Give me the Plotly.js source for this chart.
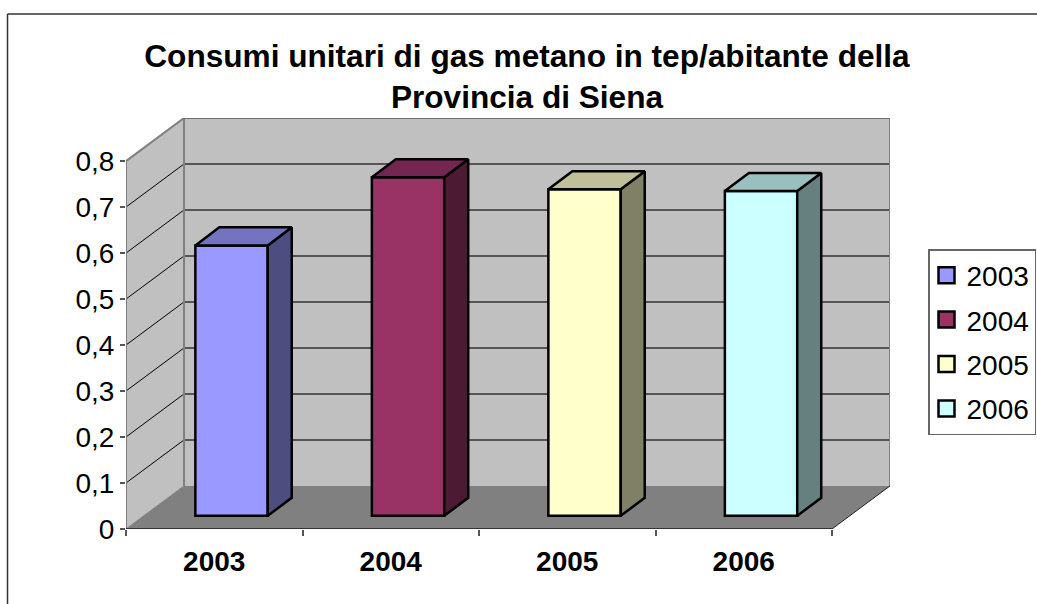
<!DOCTYPE html>
<html>
<head>
<meta charset="utf-8">
<script src="https://cdn.plot.ly/plotly-3.0.1.min.js"></script>
<style>html,body{margin:0;padding:0;background:#fff}#chart{width:1037px;height:604px}</style>
</head>
<body>
<div id="chart"></div>
<script>
var titleText = 'Consumi unitari di gas metano in tep/abitante della<br>Provincia di Siena';
var years = ['2003', '2004', '2005', '2006'];
var values = [0.588, 0.736, 0.71, 0.706];
var frontColors = ['#9999FF', '#993366', '#FFFFCC', '#CCFFFF'];
var topColors = ['#7373BF', '#732650', '#BFBF99', '#99BFBF'];
var sideColors = ['#4D4D80', '#4D1A33', '#808066', '#668080'];
var yTicks = [0, 0.1, 0.2, 0.3, 0.4, 0.5, 0.6, 0.7, 0.8];
var yTickText = ['0', '0,1', '0,2', '0,3', '0,4', '0,5', '0,6', '0,7', '0,8'];

// oblique projection, in axis units
var wallDx = 0.3286, wallDy = 0.0937;
var barDx = 0.136, barDy = 0.0392;
var barBase = 0.0287, barShift = 0.098, barWidth = 0.41;
var xMax = years.length + wallDx, yMax = 0.8 + wallDy;
var FONT = 'Liberation Sans, Arial, sans-serif';

var traces = [];
years.forEach(function (year, i) {
  var cx = i + 0.5 + barShift;
  var xl = cx - barWidth / 2, xr = cx + barWidth / 2;
  var top = barBase + values[i];
  traces.push({
    type: 'bar', x: [cx], y: [values[i]], base: [barBase], width: [barWidth],
    marker: {color: frontColors[i], line: {color: '#000', width: 2.5}},
    showlegend: false, hoverinfo: 'skip'
  });
  traces.push({
    type: 'scatter', mode: 'lines', fill: 'toself', fillcolor: sideColors[i],
    x: [xr, xr + barDx, xr + barDx, xr, xr],
    y: [barBase, barBase + barDy, top + barDy, top, barBase],
    line: {color: '#000', width: 2.5}, showlegend: false, hoverinfo: 'skip', cliponaxis: false
  });
  traces.push({
    type: 'scatter', mode: 'lines', fill: 'toself', fillcolor: topColors[i],
    x: [xl, xr, xr + barDx, xl + barDx, xl],
    y: [top, top, top + barDy, top + barDy, top],
    line: {color: '#000', width: 2.5}, showlegend: false, hoverinfo: 'skip', cliponaxis: false
  });
  traces.push({
    type: 'scatter', mode: 'markers', name: year, legendgroup: year,
    x: [null], y: [null],
    marker: {symbol: 'square', size: 16, color: frontColors[i], line: {color: '#000', width: 2.5}},
    hoverinfo: 'skip'
  });
});

function edge(xs, ys, color, width) {
  traces.push({type: 'scatter', mode: 'lines', x: xs, y: ys, cliponaxis: false,
    line: {color: color, width: width}, showlegend: false, hoverinfo: 'skip'});
}
edge([0, 0], [0, 0.8], '#808080', 2);
edge([0, wallDx], [0.8, yMax], '#808080', 2);
edge([wallDx, wallDx], [wallDy, yMax], '#808080', 2);
edge([wallDx, xMax], [yMax, yMax], '#6e6e6e', 2);
edge([xMax, xMax], [wallDy, yMax], '#808080', 2);
edge([0, wallDx], [0, wallDy], '#808080', 1);
edge([0, years.length], [0, 0], '#333333', 2);
edge([years.length, xMax], [0, wallDy], '#222222', 1);

var shapes = [
  {type: 'path', xref: 'x', yref: 'y', layer: 'below', line: {width: 0}, fillcolor: '#C0C0C0',
   path: 'M' + wallDx + ',' + wallDy + 'L' + xMax + ',' + wallDy + 'L' + xMax + ',' + yMax + 'L' + wallDx + ',' + yMax + 'Z'},
  {type: 'path', xref: 'x', yref: 'y', layer: 'below', line: {width: 0}, fillcolor: '#C0C0C0',
   path: 'M0,0L' + wallDx + ',' + wallDy + 'L' + wallDx + ',' + yMax + 'L0,0.8Z'},
  {type: 'path', xref: 'x', yref: 'y', layer: 'below', line: {width: 0}, fillcolor: '#808080',
   path: 'M0,0L' + years.length + ',0L' + xMax + ',' + wallDy + 'L' + wallDx + ',' + wallDy + 'Z'}
];
yTicks.slice(1, -1).forEach(function (v) {
  shapes.push({type: 'line', xref: 'x', yref: 'y', layer: 'below', line: {color: '#000', width: 1},
    x0: 0, y0: v, x1: wallDx, y1: v + wallDy});
  shapes.push({type: 'line', xref: 'x', yref: 'y', layer: 'below', line: {color: '#555', width: 2},
    x0: wallDx, y0: v + wallDy, x1: xMax, y1: v + wallDy});
});
// chart-area border: top and left only, in figure pixels
var plotW = 764, plotH = 411, mL = 126, mT = 118;
shapes.push({type: 'line', xref: 'paper', yref: 'paper', layer: 'above', line: {color: '#333', width: 1.5},
  x0: (7.5 - mL) / plotW, x1: (1037 - mL) / plotW, y0: 1 + (mT - 14) / plotH, y1: 1 + (mT - 14) / plotH});
shapes.push({type: 'line', xref: 'paper', yref: 'paper', layer: 'above', line: {color: '#333', width: 1.5},
  x0: (7.5 - mL) / plotW, x1: (7.5 - mL) / plotW, y0: 1 + (mT - 14) / plotH, y1: 1 + (mT - 604) / plotH});

var layout = {
  width: 1037, height: 604, autosize: false,
  paper_bgcolor: '#fff', plot_bgcolor: 'rgba(0,0,0,0)',
  margin: {l: mL, r: 1037 - mL - plotW, t: mT, b: 604 - mT - plotH, pad: 0},
  font: {family: FONT, color: '#000', size: 28},
  title: {text: titleText, font: {family: FONT, size: 31.6, weight: 'bold', color: '#000'},
    x: 527 / 1037, xanchor: 'center', y: 1 - 66.5 / 604, yanchor: 'middle'},
  barmode: 'overlay', shapes: shapes,
  xaxis: {
    range: [0, xMax], tickvals: years.map(function (y, i) { return i + 0.5; }), ticktext: years,
    ticks: '', showgrid: false, zeroline: false, showline: false, fixedrange: true,
    tickfont: {family: FONT, size: 28, weight: 'bold', color: '#000'}, ticklabelstandoff: 13,
    minor: {tickvals: [0, 1, 2, 3, 4], ticks: 'outside', ticklen: 6, tickwidth: 1.5, tickcolor: '#555', showgrid: false}
  },
  yaxis: {
    range: [0, yMax], tickvals: yTicks, ticktext: yTickText, ticks: 'outside', ticklen: 5,
    tickwidth: 1.5, tickcolor: '#555', showgrid: false, zeroline: false, showline: false, fixedrange: true,
    tickfont: {family: FONT, size: 28, color: '#000'}
  },
  legend: {
    xref: 'container', yref: 'container',
    x: 928 / 1037, xanchor: 'left', y: 1 - 249 / 604, yanchor: 'top',
    bordercolor: '#666', borderwidth: 1.5, bgcolor: '#fff', tracegroupgap: 5, indentation: -3,
    font: {family: FONT, size: 28, color: '#000'}, itemclick: false, itemdoubleclick: false
  },
  showlegend: true
};
Plotly.newPlot('chart', traces, layout, {displayModeBar: false});
</script>
</body>
</html>
